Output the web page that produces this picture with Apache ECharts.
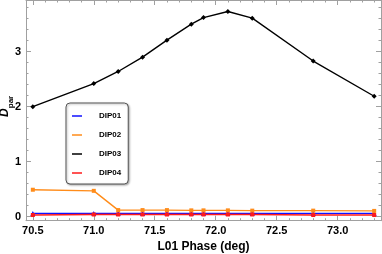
<!DOCTYPE html>
<html>
<head>
<meta charset="utf-8">
<script src="https://cdn.jsdelivr.net/npm/echarts@6/dist/echarts.min.js"></script>
<style>
html,body{margin:0;padding:0;background:#fff;}
#chart{width:382px;height:254px;}
</style>
</head>
<body>
<div id="chart"></div>
<script>
// ---- data ----
const phases = [70.5, 71.0, 71.2, 71.4, 71.6, 71.8, 71.9, 72.1, 72.3, 72.8, 73.3];
const dip01 = [0.06, 0.06, 0.06, 0.06, 0.06, 0.06, 0.06, 0.06, 0.06, 0.06, 0.06];
const dip02 = [0.49, 0.47, 0.12, 0.12, 0.12, 0.115, 0.115, 0.115, 0.11, 0.11, 0.105];
const dip03 = [2.00, 2.42, 2.64, 2.90, 3.21, 3.50, 3.62, 3.73, 3.61, 2.83, 2.19];
const dip04 = [0.03, 0.04, 0.04, 0.04, 0.04, 0.04, 0.04, 0.04, 0.04, 0.03, 0.03];
const seriesNames = ['DIP01', 'DIP02', 'DIP03', 'DIP04'];

const xMajorTicks = [70.5, 71.0, 71.5, 72.0, 72.5, 73.0];
const xMinorTicks = [70.5,70.6,70.7,70.8,70.9,71.0,71.1,71.2,71.3,71.4,71.5,71.6,71.7,71.8,71.9,72.0,72.1,72.2,72.3,72.4,72.5,72.6,72.7,72.8,72.9,73.0,73.1,73.2,73.3];
const yMajorTicks = [0, 1, 2, 3];
const yMinorTicks = [0.2,0.4,0.6,0.8,1.2,1.4,1.6,1.8,2.2,2.4,2.6,2.8,3.2,3.4,3.6,3.8];

const X_MIN = 70.444, X_MAX = 73.356;
const Y_MIN = -0.073, Y_MAX = 3.94;

const frameColor = '#a0a0a0';
const font = 'Liberation Sans, Arial, sans-serif';

function xAxisDef(position, ticks, len, showLabel, showLine) {
  return {
    type: 'value', position: position, min: X_MIN, max: X_MAX,
    axisLine: {show: showLine, onZero: false, lineStyle: {color: frameColor, width: 1}},
    axisTick: {show: true, inside: true, length: len, customValues: ticks, lineStyle: {color: frameColor}},
    axisLabel: {show: showLabel, customValues: ticks, formatter: v => v.toFixed(1),
      color: '#000', fontWeight: 'bold', fontSize: 11, fontFamily: font, margin: 5},
    splitLine: {show: false}
  };
}
function yAxisDef(position, ticks, len, showLabel, showLine) {
  return {
    type: 'value', position: position, min: Y_MIN, max: Y_MAX,
    axisLine: {show: showLine, onZero: false, lineStyle: {color: frameColor, width: 1}},
    axisTick: {show: true, inside: true, length: len, customValues: ticks, lineStyle: {color: frameColor}},
    axisLabel: {show: showLabel, customValues: ticks, formatter: v => String(Math.round(v)),
      color: '#000', fontWeight: 'bold', fontSize: 11, fontFamily: font, margin: 5},
    splitLine: {show: false}
  };
}

const xAxes = [
  xAxisDef('bottom', xMajorTicks, 5, true, true),
  xAxisDef('bottom', xMinorTicks, 2.5, false, false),
  xAxisDef('top', xMajorTicks, 5, false, true),
  xAxisDef('top', xMinorTicks, 2.5, false, false)
];
xAxes[0].name = 'L01 Phase (deg)';
xAxes[0].nameLocation = 'middle';
xAxes[0].nameGap = 20;
xAxes[0].nameMoveOverlap = false;
xAxes[0].nameTextStyle = {color: '#000', fontWeight: 'bold', fontSize: 12, fontFamily: font};

const yAxes = [
  yAxisDef('left', yMajorTicks, 5, true, true),
  yAxisDef('left', yMinorTicks, 2.5, false, false),
  yAxisDef('right', yMajorTicks, 5, false, true),
  yAxisDef('right', yMinorTicks, 2.5, false, false)
];
yAxes[0].name = '{d|D}{s|par}';
yAxes[0].nameLocation = 'middle';
yAxes[0].nameRotate = 90;
yAxes[0].nameGap = 11;
yAxes[0].nameMoveOverlap = false;
yAxes[0].nameTextStyle = {
  color: '#000', fontFamily: font, padding: [0, 0, 0, 8],
  rich: {
    d: {fontSize: 12, fontWeight: 'bold', fontStyle: 'italic', fontFamily: font, color: '#000', lineHeight: 16, verticalAlign: 'top'},
    s: {fontSize: 8, fontWeight: 'bold', fontFamily: font, color: '#000', lineHeight: 16, verticalAlign: 'bottom', padding: [6, 0, 0, 0]}
  }
};

const colors = ['#1010ff', '#ff8c1a', '#000000', '#ff1a1a'];
const symbols = ['triangle', 'rect', 'diamond', 'rect'];
const symbolSizes = [5, 4, 5, 4];
const values = [dip01, dip02, dip03, dip04];

const series = values.map((vals, i) => ({
  name: seriesNames[i],
  type: 'line',
  xAxisIndex: 0, yAxisIndex: 0,
  data: phases.map((p, j) => [p, vals[j]]),
  symbol: symbols[i], symbolSize: symbolSizes[i],
  showSymbol: true,
  lineStyle: {color: colors[i], width: i === 3 ? 1.6 : 1.4},
  itemStyle: {color: colors[i]},
  emphasis: {disabled: true},
  animation: false
}));

const chart = echarts.init(document.getElementById('chart'), null, {renderer: 'canvas'});
chart.setOption({
  animation: false,
  backgroundColor: '#fff',
  grid: {left: 26, right: 1, top: 0, bottom: 33.3, containLabel: false, outerBoundsMode: 'none'},
  xAxis: xAxes,
  yAxis: yAxes,
  legend: {
    show: true,
    orient: 'vertical',
    left: 66, top: 103,
    data: seriesNames.map((n, i) => ({name: n, icon: 'rect', itemStyle: {color: colors[i]}})),
    itemWidth: 10, itemHeight: 1.5,
    itemGap: 9,
    padding: [8, 7, 6, 6],
    backgroundColor: '#fff',
    borderColor: '#555',
    borderWidth: 1,
    borderRadius: 4,
    shadowColor: 'rgba(0,0,0,0.3)',
    shadowBlur: 2,
    shadowOffsetX: 1,
    shadowOffsetY: 1,
    selectedMode: false,
    textStyle: {color: '#000', fontWeight: 'bold', fontSize: 8, fontFamily: font, lineHeight: 10, padding: [0, 0, 0, 12]}
  },
  series: series
});
</script>
</body>
</html>
